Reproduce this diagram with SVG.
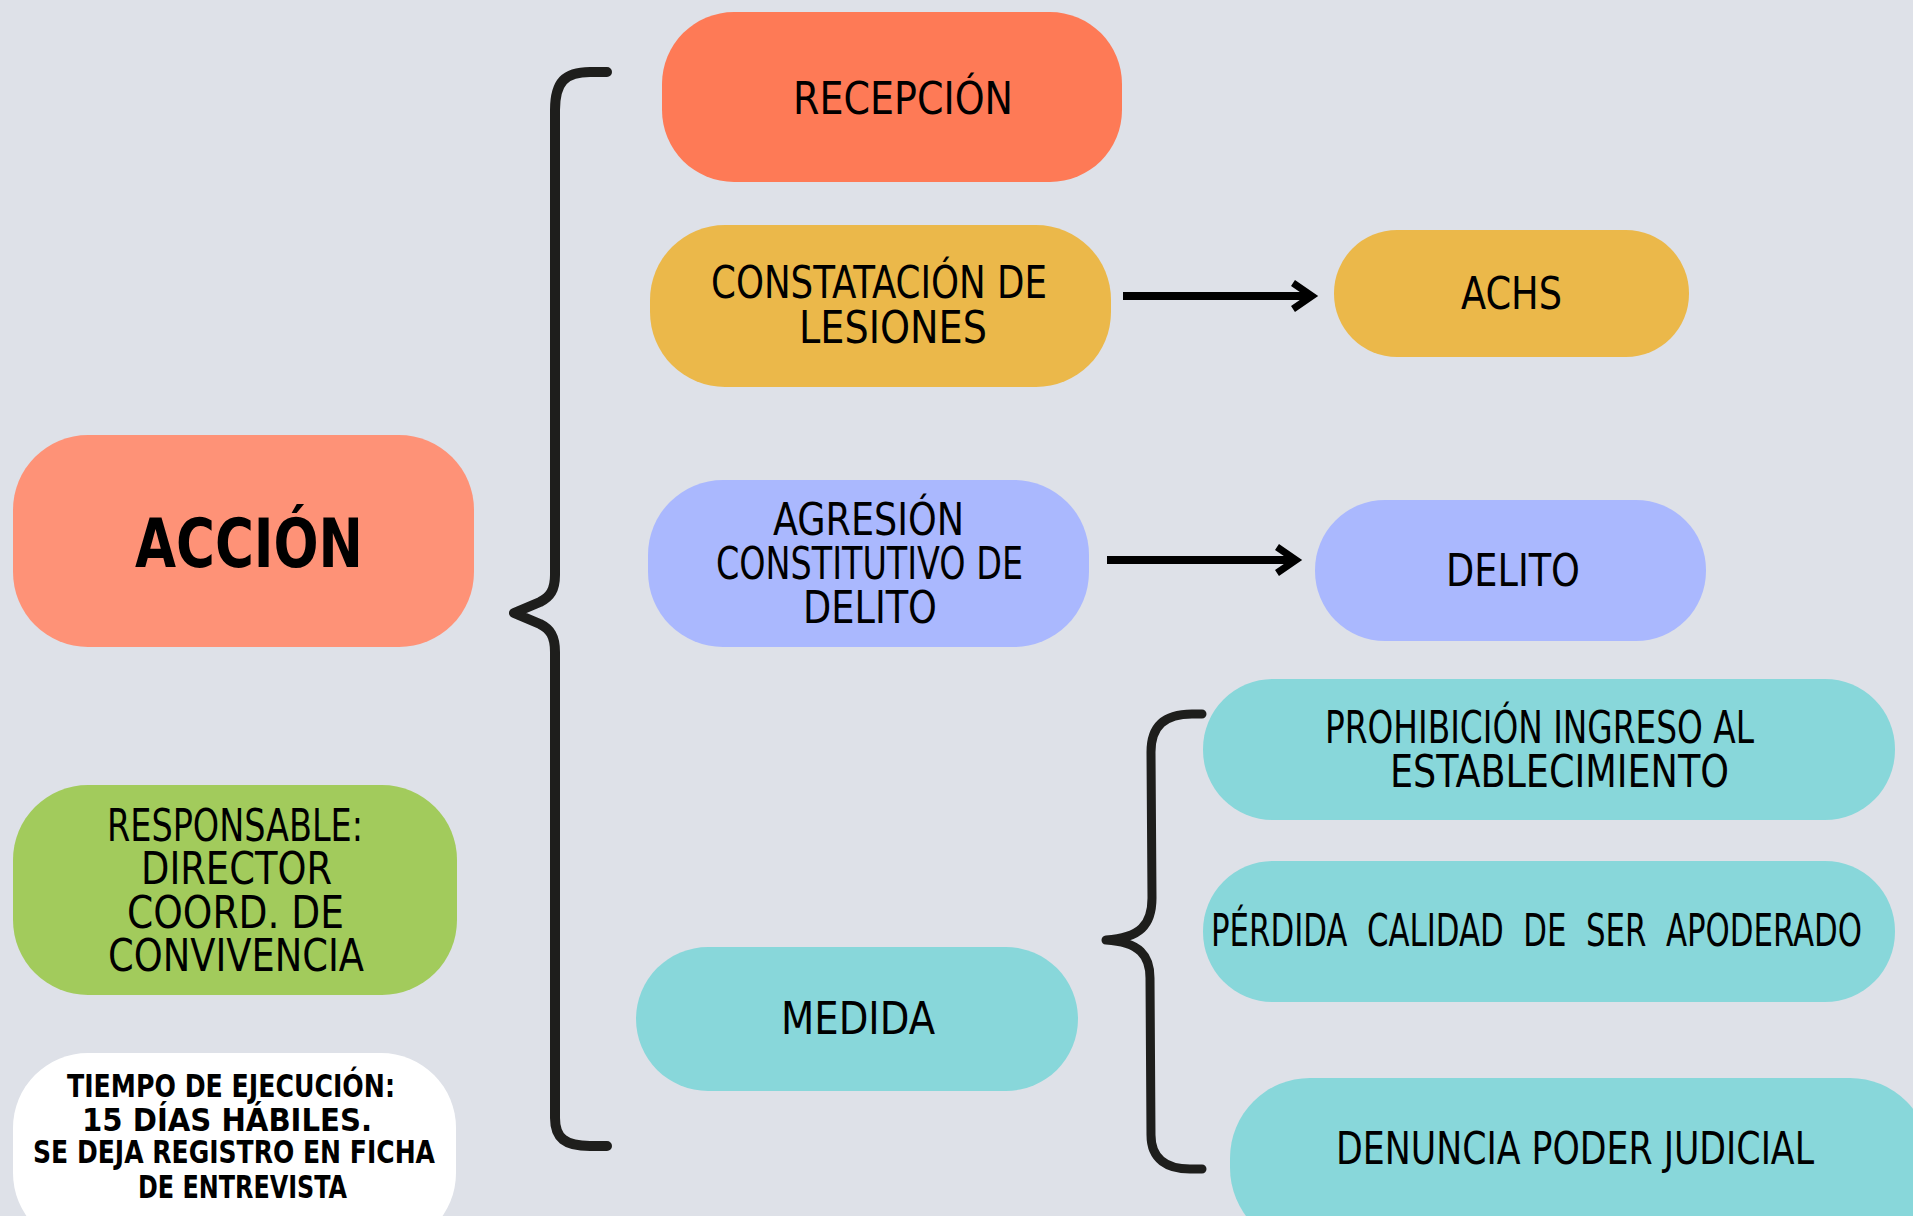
<svg xmlns="http://www.w3.org/2000/svg" width="1913" height="1216" viewBox="0 0 1913 1216">
<style>
.t{font-family:"DejaVu Sans Condensed","DejaVu Sans","Liberation Sans",sans-serif;font-stretch:condensed;font-size:44px;fill:#000}
.b{font-family:"DejaVu Sans Condensed","DejaVu Sans","Liberation Sans",sans-serif;font-stretch:condensed;font-weight:bold;fill:#000}
.brace{fill:none;stroke:#1e1e1c;stroke-linecap:round;stroke-linejoin:round}
.arr{fill:none;stroke:#000;stroke-width:8}
.head{fill:none;stroke:#000;stroke-width:7;stroke-linecap:butt;stroke-linejoin:miter}
</style>
<rect width="1913" height="1216" fill="#dee1e8"/>

<g id="connectors">
<path class="brace" stroke-width="10" d="M 607 72 L 590 72 C 565 72 555 82 555 110 L 555 575 C 555 590 550 597 540 602 L 514 613 L 540 624 C 550 629 555 636 555 652 L 555 1118 C 555 1138 565 1146 590 1146 L 607 1146"/>
<path class="brace" stroke="#000" stroke-width="9" d="M 1202 714 L 1192 714 C 1165 714 1151 726 1151 752 L 1152 898 C 1152 925 1140 938 1106 940 C 1140 942 1150 956 1150 978 L 1151 1135 C 1151 1160 1168 1169 1190 1169 L 1202 1169"/>
<line class="arr" x1="1123" y1="296" x2="1310" y2="296"/>
<polyline class="head" points="1293,283 1312,296 1293,309"/>
<line class="arr" x1="1107" y1="560" x2="1294" y2="560"/>
<polyline class="head" points="1277,547 1296,560 1277,573"/>
</g>

<g id="n-recepcion">
<rect x="662" y="12" width="460" height="170" rx="72" ry="72" fill="#fe7a56"/>
<text class="t" x="793" y="114" textLength="220" lengthAdjust="spacingAndGlyphs">RECEPCIÓN</text>
</g>

<g id="n-constatacion">
<rect x="650" y="225" width="461" height="162" rx="75" ry="75" fill="#ebb84a"/>
<text class="t" x="711" y="298" textLength="336" lengthAdjust="spacingAndGlyphs">CONSTATACIÓN DE</text>
<text class="t" x="799" y="343" textLength="188" lengthAdjust="spacingAndGlyphs">LESIONES</text>
</g>

<g id="n-achs">
<rect x="1334" y="230" width="355" height="127" rx="63" ry="63" fill="#ebb84a"/>
<text class="t" x="1461" y="309" font-size="45" textLength="101" lengthAdjust="spacingAndGlyphs">ACHS</text>
</g>

<g id="n-accion">
<rect x="13" y="435" width="461" height="212" rx="75" ry="75" fill="#fe9277"/>
<text class="b" x="135" y="567" font-size="67" textLength="228" lengthAdjust="spacingAndGlyphs">ACCIÓN</text>
</g>

<g id="n-agresion">
<rect x="648" y="480" width="441" height="167" rx="75" ry="75" fill="#aab8fe"/>
<text class="t" x="773" y="535" textLength="191" lengthAdjust="spacingAndGlyphs">AGRESIÓN</text>
<text class="t" x="716" y="579" textLength="307" lengthAdjust="spacingAndGlyphs">CONSTITUTIVO DE</text>
<text class="t" x="803" y="623" textLength="134" lengthAdjust="spacingAndGlyphs">DELITO</text>
</g>

<g id="n-delito">
<rect x="1315" y="500" width="391" height="141" rx="70" ry="70" fill="#aab8fe"/>
<text class="t" x="1446" y="586" font-size="46" textLength="134" lengthAdjust="spacingAndGlyphs">DELITO</text>
</g>

<g id="n-prohibicion">
<rect x="1203" y="679" width="692" height="141" rx="70" ry="70" fill="#88d7da"/>
<text class="t" x="1325" y="743" textLength="429" lengthAdjust="spacingAndGlyphs">PROHIBICIÓN INGRESO AL</text>
<text class="t" x="1390" y="787" textLength="339" lengthAdjust="spacingAndGlyphs">ESTABLECIMIENTO</text>
</g>

<g id="n-responsable">
<rect x="13" y="785" width="444" height="210" rx="75" ry="75" fill="#a2cb5c"/>
<text class="t" x="107" y="841" textLength="256" lengthAdjust="spacingAndGlyphs">RESPONSABLE:</text>
<text class="t" x="141" y="884" textLength="191" lengthAdjust="spacingAndGlyphs">DIRECTOR</text>
<text class="t" x="127" y="928" textLength="217" lengthAdjust="spacingAndGlyphs">COORD. DE</text>
<text class="t" x="108" y="971" textLength="256" lengthAdjust="spacingAndGlyphs">CONVIVENCIA</text>
</g>

<g id="n-perdida">
<rect x="1203" y="861" width="692" height="141" rx="70" ry="70" fill="#88d7da"/>
<text class="t" x="1211" y="946" textLength="651" lengthAdjust="spacingAndGlyphs" xml:space="preserve">PÉRDIDA  CALIDAD  DE  SER  APODERADO</text>
</g>

<g id="n-medida">
<rect x="636" y="947" width="442" height="144" rx="72" ry="72" fill="#88d7da"/>
<text class="t" x="781" y="1034" textLength="154" lengthAdjust="spacingAndGlyphs">MEDIDA</text>
</g>

<g id="n-denuncia">
<rect x="1230" y="1078" width="700" height="170" rx="80" ry="80" fill="#88d7da"/>
<text class="t" x="1336" y="1164" textLength="478" lengthAdjust="spacingAndGlyphs">DENUNCIA PODER JUDICIAL</text>
</g>

<g id="n-tiempo">
<rect x="13" y="1053" width="443" height="195" rx="75" ry="75" fill="#ffffff"/>
<text class="b" x="67" y="1097" font-size="32" textLength="328" lengthAdjust="spacingAndGlyphs">TIEMPO DE EJECUCIÓN:</text>
<text class="b" x="82" y="1131" font-size="32" textLength="290" lengthAdjust="spacingAndGlyphs">15 DÍAS HÁBILES.</text>
<text class="b" x="33" y="1163" font-size="32" textLength="402" lengthAdjust="spacingAndGlyphs">SE DEJA REGISTRO EN FICHA</text>
<text class="b" x="138" y="1198" font-size="32" textLength="209" lengthAdjust="spacingAndGlyphs">DE ENTREVISTA</text>
</g>
</svg>
